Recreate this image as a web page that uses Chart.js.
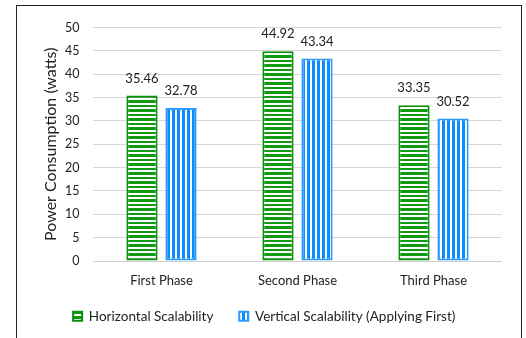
<!DOCTYPE html>
<html>
<head>
<meta charset="utf-8">
<script src="https://cdn.jsdelivr.net/npm/chart.js@4/dist/chart.umd.min.js"></script>
<style>
  body { margin: 0; background: #fff; }
  #frame {
    position: absolute; left: 16px; top: 5px;
    width: 504px; height: 345px;
    border: 1.5px solid #222; overflow: hidden; background: #fff;
  }
</style>
</head>
<body>
<div id="frame"><canvas id="powerChart" width="504" height="332"></canvas></div>
<script>
const phases = ['First Phase', 'Second Phase', 'Third Phase'];
const horizontalScalability = [35.46, 44.92, 33.35];
const verticalScalability = [32.78, 43.34, 30.52];
const yTicks = [0, 5, 10, 15, 20, 25, 30, 35, 40, 45, 50];

const FONT = 'Lato, "Open Sans", sans-serif';

// striped fills, like the office-style pattern fills
function stripes(color, horizontal) {
    const c = document.createElement('canvas');
    const p = c.getContext('2d');
    if (horizontal) {
        c.width = 1; c.height = 9;
        p.fillStyle = '#fff'; p.fillRect(0, 0, 1, 9);
        p.fillStyle = color;
        p.fillRect(0, 0, 1, 2);
        p.fillRect(0, 4, 1, 3);
    } else {
        c.width = 5; c.height = 1;
        p.fillStyle = '#fff'; p.fillRect(0, 0, 5, 1);
        p.fillStyle = color;
        p.fillRect(0, 0, 3, 1);
    }
    return p.createPattern(c, 'repeat');
}

const ctx = document.getElementById('powerChart').getContext('2d');

// value above each bar
const valueLabels = {
    id: 'valueLabels',
    afterDatasetsDraw(chart) {
        const g = chart.ctx;
        g.save();
        g.font = '13px ' + FONT;
        g.fillStyle = '#222';
        g.textAlign = 'center';
        g.textBaseline = 'middle';
        chart.data.datasets.forEach((ds, i) => {
            chart.getDatasetMeta(i).data.forEach((bar, j) => {
                g.fillText(ds.data[j].toFixed(2), bar.x, bar.y - 17);
            });
        });
        g.restore();
    }
};

const chart = new Chart(ctx, {
    type: 'bar',
    data: {
        labels: phases,
        datasets: [{
            label: 'Horizontal Scalability',
            data: horizontalScalability,
            backgroundColor: stripes('#109a10', true),
            borderColor: '#0d8f0d',
            borderWidth: 2,
            borderSkipped: false
        }, {
            label: 'Vertical Scalability (Applying First)',
            data: verticalScalability,
            backgroundColor: stripes('#0a8cff', false),
            borderColor: '#2b9bff',
            borderWidth: 2,
            borderSkipped: false
        }]
    },
    plugins: [valueLabels],
    options: {
        responsive: false,
        animation: false,
        categoryPercentage: 0.574,
        barPercentage: 0.8,
        layout: { padding: { left: 10, right: 19.5, top: 4, bottom: 4.9 } },
        plugins: {
            tooltip: { enabled: false },
            legend: {
                position: 'bottom',
                labels: {
                    boxWidth: 9, boxHeight: 9,
                    padding: 9,
                    color: '#222',
                    font: { family: FONT, size: 13.5 },
                    // a bit more room between the two legend items
                    generateLabels: chart => Chart.defaults.plugins.legend.labels.generateLabels(chart)
                        .map((item, i) => i === 0 ? Object.assign(item, { text: item.text + '\u2003\u2002' }) : item)
                }
            }
        },
        scales: {
            x: {
                grid: { display: false, drawTicks: false },
                border: { color: '#d0d0d0' },
                ticks: { color: '#222', padding: 12, font: { family: FONT, size: 13 } }
            },
            y: {
                min: 0, max: 50,
                afterBuildTicks: axis => { axis.ticks = yTicks.map(v => ({ value: v })); },
                grid: { color: '#d6d6d6', drawTicks: false },
                border: { display: false },
                ticks: { color: '#222', padding: 14, font: { family: FONT, size: 12.5 } },
                title: {
                    display: true,
                    text: 'Power Consumption (watts)',
                    color: '#222',
                    padding: { top: 14, bottom: -9.2 },
                    font: { family: FONT, size: 16 }
                }
            }
        }
    }
});
</script>
</body>
</html>
